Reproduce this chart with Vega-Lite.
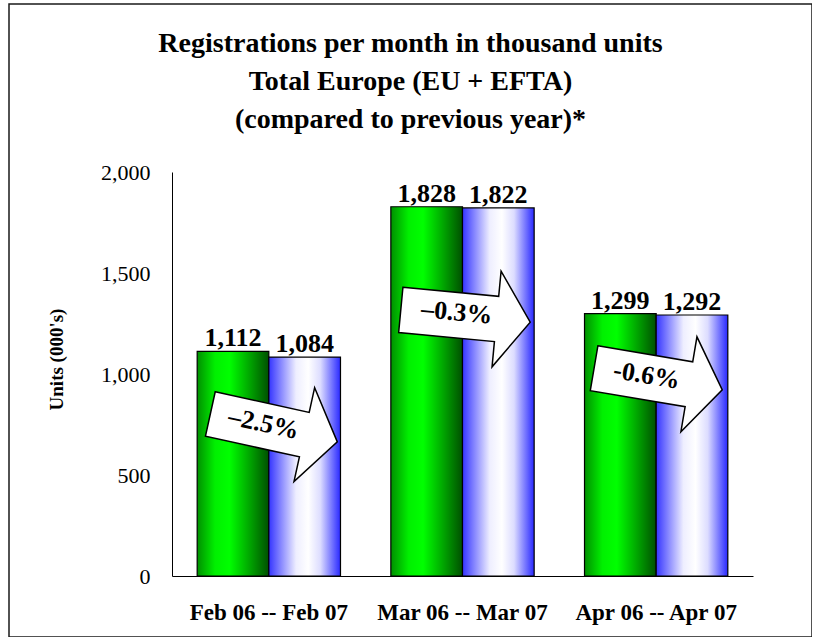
{
  "$schema": "https://vega.github.io/schema/vega-lite/v6.json",
  "width": 803,
  "height": 633,
  "autosize": {"type": "none"},
  "padding": {"left": 9, "top": 4, "right": 0, "bottom": 0},
  "background": "white",
  "config": {
    "view": {"stroke": "#1a1a1a", "strokeWidth": 1.5},
    "font": "Liberation Serif"
  },
  "title": {
    "text": ["Registrations per month in thousand units", "Total Europe (EU + EFTA)", "(compared to previous year)*"],
    "font": "Liberation Serif",
    "fontSize": 28,
    "fontWeight": "bold",
    "color": "black",
    "lineHeight": 38,
    "anchor": "middle",
    "frame": "group",
    "baseline": "alphabetic",
    "offset": -152
  },
  "datasets": {
    "bars": [
      {"month": "Feb 06 -- Feb 07", "year": "2006", "units": 1112},
      {"month": "Feb 06 -- Feb 07", "year": "2007", "units": 1084},
      {"month": "Mar 06 -- Mar 07", "year": "2006", "units": 1828},
      {"month": "Mar 06 -- Mar 07", "year": "2007", "units": 1822},
      {"month": "Apr 06 -- Apr 07", "year": "2006", "units": 1299},
      {"month": "Apr 06 -- Apr 07", "year": "2007", "units": 1292}
    ],
    "arrows": [
      {"month": "Feb 06 -- Feb 07", "change": "–2.5%", "y": 733},
      {"month": "Mar 06 -- Mar 07", "change": "–0.3%", "y": 1287},
      {"month": "Apr 06 -- Apr 07", "change": "-0.6%", "y": 975}
    ]
  },
  "data": {"name": "bars"},
  "encoding": {
    "x": {
      "field": "month",
      "type": "nominal",
      "sort": ["Feb 06 -- Feb 07", "Mar 06 -- Mar 07", "Apr 06 -- Apr 07"],
      "scale": {"range": [163, 744], "paddingInner": 0.26, "paddingOuter": 0.13},
      "axis": {
        "title": null,
        "labelAngle": 0,
        "ticks": false,
        "tickSize": 0,
        "domainColor": "black",
        "domainWidth": 1,
        "labelFont": "Liberation Serif",
        "labelFontSize": 23,
        "labelFontWeight": "bold",
        "labelColor": "black",
        "labelPadding": 25,
        "offset": -61
      }
    }
  },
  "layer": [
    {
      "transform": [{"filter": "datum.year === '2006'"}],
      "mark": {
        "type": "bar",
        "stroke": "black",
        "strokeWidth": 1.2,
        "fill": {
          "gradient": "linear", "x1": 0, "x2": 1, "y1": 0, "y2": 0,
          "stops": [
            {"offset": 0, "color": "#009000"},
            {"offset": 0.25, "color": "#00f000"},
            {"offset": 0.45, "color": "#00ff00"},
            {"offset": 0.7, "color": "#00b000"},
            {"offset": 1, "color": "#005000"}
          ]
        }
      },
      "encoding": {
        "xOffset": {"field": "year", "type": "nominal", "scale": {"domain": ["2006", "2007"], "paddingInner": 0, "paddingOuter": 0}},
        "y": {
          "field": "units",
          "type": "quantitative",
          "title": "Units (000's)",
          "scale": {"domain": [0, 2000], "range": [572, 168], "nice": false, "zero": true},
          "axis": {
            "values": [0, 500, 1000, 1500, 2000],
            "format": ",.0f",
            "grid": false,
            "ticks": false,
            "tickSize": 0,
            "domainColor": "black",
            "domainWidth": 1,
            "labelFont": "Liberation Serif",
            "labelFontSize": 22,
            "labelColor": "black",
            "labelPadding": 22,
            "offset": -163,
            "titleFont": "Liberation Serif",
            "titleFontSize": 19,
            "titleFontWeight": "bold",
            "titleColor": "black",
            "titleX": -116,
            "titleY": 355,
            "titleBaseline": "middle",
            "titleAngle": -90
          }
        }
      }
    },
    {
      "transform": [{"filter": "datum.year === '2007'"}],
      "mark": {
        "type": "bar",
        "stroke": "black",
        "strokeWidth": 1.2,
        "fill": {
          "gradient": "linear", "x1": 0, "x2": 1, "y1": 0, "y2": 0,
          "stops": [
            {"offset": 0, "color": "#3535ff"},
            {"offset": 0.38, "color": "#eeeeff"},
            {"offset": 0.55, "color": "#ffffff"},
            {"offset": 0.72, "color": "#dcdcff"},
            {"offset": 1, "color": "#2828ff"}
          ]
        }
      },
      "encoding": {
        "xOffset": {"field": "year", "type": "nominal", "scale": {"domain": ["2006", "2007"], "paddingInner": 0, "paddingOuter": 0}},
        "y": {"field": "units", "type": "quantitative", "title": "Units (000's)"}
      }
    },
    {
      "mark": {"type": "text", "font": "Liberation Serif", "fontSize": 26, "fontWeight": "bold", "color": "black", "baseline": "alphabetic", "align": "center", "dy": -5},
      "encoding": {
        "xOffset": {"field": "year", "type": "nominal", "scale": {"domain": ["2006", "2007"], "paddingInner": 0, "paddingOuter": 0}},
        "y": {"field": "units", "type": "quantitative", "title": "Units (000's)"},
        "text": {"field": "units", "type": "quantitative", "format": ","}
      }
    },
    {
      "data": {"name": "arrows"},
      "transform": [{"filter": "datum.month === 'Feb 06 -- Feb 07'"}],
      "mark": {"type": "point", "shape": "M-1,-0.35L0.48,-0.35L0.48,-0.74L1,0L0.48,0.74L0.48,0.35L-1,0.35Z", "size": 16900, "filled": true, "fill": "white", "stroke": "black", "strokeWidth": 1.5, "strokeJoin": "miter", "opacity": 1, "angle": 12.4, "xOffset": 5},
      "encoding": {"y": {"field": "y", "type": "quantitative", "title": "Units (000's)"}}
    },
    {
      "data": {"name": "arrows"},
      "transform": [{"filter": "datum.month === 'Feb 06 -- Feb 07'"}],
      "mark": {"type": "text", "font": "Liberation Serif", "fontSize": 26, "fontWeight": "bold", "color": "black", "baseline": "middle", "align": "center", "angle": 12.4, "dx": -6, "dy": -3},
      "encoding": {"y": {"field": "y", "type": "quantitative", "title": "Units (000's)"}, "text": {"field": "change"}}
    },
    {
      "data": {"name": "arrows"},
      "transform": [{"filter": "datum.month === 'Mar 06 -- Mar 07'"}],
      "mark": {"type": "point", "shape": "M-1,-0.35L0.48,-0.35L0.48,-0.74L1,0L0.48,0.74L0.48,0.35L-1,0.35Z", "size": 16900, "filled": true, "fill": "white", "stroke": "black", "strokeWidth": 1.5, "strokeJoin": "miter", "opacity": 1, "angle": 5.4, "xOffset": 3},
      "encoding": {"y": {"field": "y", "type": "quantitative", "title": "Units (000's)"}}
    },
    {
      "data": {"name": "arrows"},
      "transform": [{"filter": "datum.month === 'Mar 06 -- Mar 07'"}],
      "mark": {"type": "text", "font": "Liberation Serif", "fontSize": 26, "fontWeight": "bold", "color": "black", "baseline": "middle", "align": "center", "angle": 5.4, "dx": -6, "dy": -3},
      "encoding": {"y": {"field": "y", "type": "quantitative", "title": "Units (000's)"}, "text": {"field": "change"}}
    },
    {
      "data": {"name": "arrows"},
      "transform": [{"filter": "datum.month === 'Apr 06 -- Apr 07'"}],
      "mark": {"type": "point", "shape": "M-1,-0.35L0.48,-0.35L0.48,-0.74L1,0L0.48,0.74L0.48,0.35L-1,0.35Z", "size": 16900, "filled": true, "fill": "white", "stroke": "black", "strokeWidth": 1.5, "strokeJoin": "miter", "opacity": 1, "angle": 9.6, "xOffset": 2},
      "encoding": {"y": {"field": "y", "type": "quantitative", "title": "Units (000's)"}}
    },
    {
      "data": {"name": "arrows"},
      "transform": [{"filter": "datum.month === 'Apr 06 -- Apr 07'"}],
      "mark": {"type": "text", "font": "Liberation Serif", "fontSize": 26, "fontWeight": "bold", "color": "black", "baseline": "middle", "align": "center", "angle": 9.6, "dx": -10, "dy": -2},
      "encoding": {"y": {"field": "y", "type": "quantitative", "title": "Units (000's)"}, "text": {"field": "change"}}
    }
  ]
}
